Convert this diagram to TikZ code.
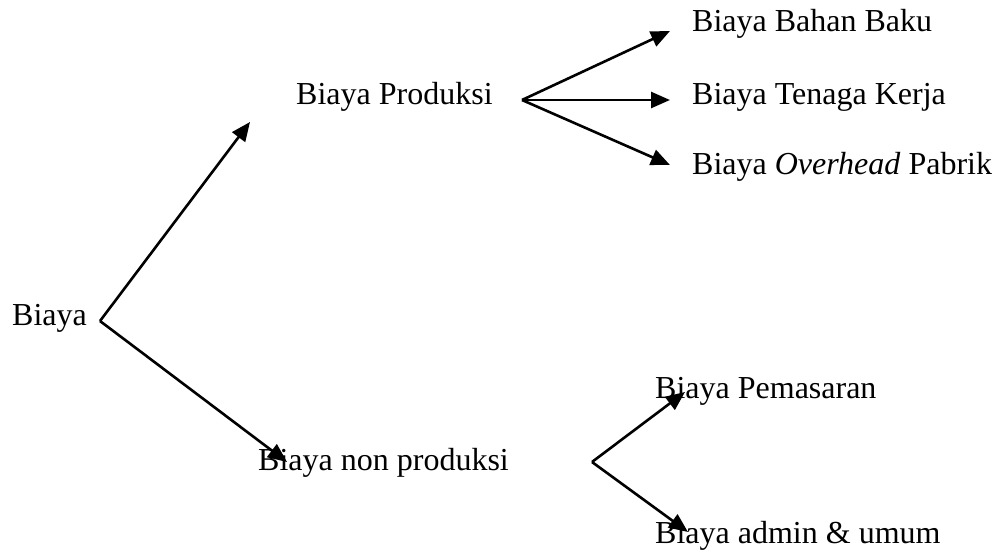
\documentclass[tikz,border=0pt]{standalone}
\usepackage{fontspec}
\setmainfont{Liberation Serif}
\usetikzlibrary{arrows.meta}
\begin{document}
\begin{tikzpicture}[x=1pt,y=-1pt,
  lbl/.style={anchor=base west,inner sep=0pt,font=\fontsize{32}{38}\selectfont},
  conn/.style={line width=2.6pt,-{Triangle[length=19pt,width=16pt]}}]
\useasboundingbox (0,0) rectangle (997,556);
% labels
\node[lbl] (biaya) at (12,326) {Biaya};
\node[lbl] (prod) at (296,105) {Biaya Produksi};
\node[lbl] (bahan) at (692,32) {Biaya Bahan Baku};
\node[lbl] (tenaga) at (692,105) {Biaya Tenaga Kerja};
\node[lbl] (ovh) at (692,175) {Biaya \textit{Overhead} Pabrik};
\node[lbl] (nonprod) at (258,470) {Biaya non produksi};
\node[lbl] (pemas) at (655,398) {Biaya Pemasaran};
\node[lbl] (admin) at (655,543) {Biaya admin \& umum};
% branch points and arrow ends
\coordinate (bA) at (100,321);
\coordinate (pA) at (522,100);
\coordinate (nA) at (592,462);
\coordinate (tProd) at (250,122);
\coordinate (tNon) at (287,462);
\coordinate (tBahan) at (670,31);
\coordinate (tTenaga) at (670,100);
\coordinate (tOvh) at (670,165);
\coordinate (tPemas) at (685,392);
\coordinate (tAdmin) at (688,532);
% connectors
\draw[conn] (bA) -- (tProd);
\draw[conn] (bA) -- (tNon);
\draw[conn] (pA) -- (tBahan);
\draw[conn] (pA) -- (tTenaga);
\draw[conn] (pA) -- (tOvh);
\draw[conn] (nA) -- (tPemas);
\draw[conn] (nA) -- (tAdmin);
\end{tikzpicture}
\end{document}
